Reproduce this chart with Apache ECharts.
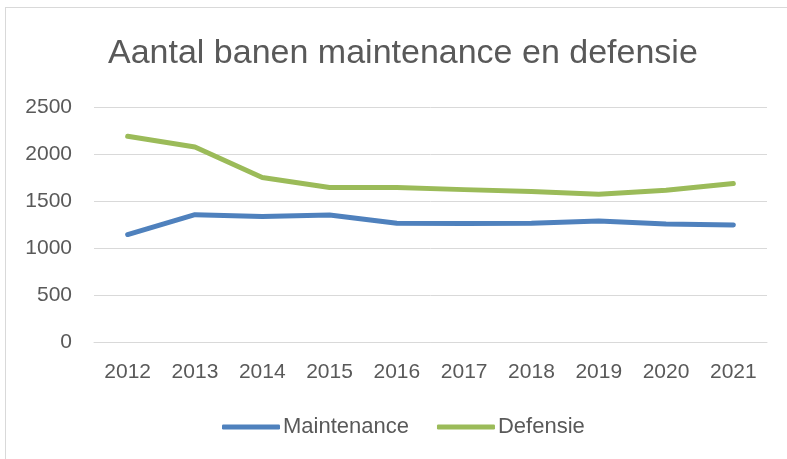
<!DOCTYPE html>
<html>
<head>
<meta charset="utf-8">
<script src="https://cdn.jsdelivr.net/npm/echarts@6/dist/echarts.min.js"></script>
<style>html,body{margin:0;padding:0;background:#fff}#c{width:787px;height:459px}</style>
</head>
<body>
<div id="c"></div>
<script>
const categories = ['2012','2013','2014','2015','2016','2017','2018','2019','2020','2021'];
const maintenance = [1143, 1355, 1334, 1352, 1263, 1260, 1263, 1287, 1255, 1245];
const defensie = [2188, 2075, 1749, 1643, 1643, 1621, 1600, 1571, 1614, 1685];
const yTicks = [0, 500, 1000, 1500, 2000, 2500];

const font = 'Liberation Sans';
const chart = echarts.init(document.getElementById('c'), null, {renderer: 'canvas'});
chart.setOption({
  backgroundColor: '#fff',
  animation: false,
  title: {
    text: 'Aantal banen maintenance en defensie',
    left: 103,
    top: 32,
    textStyle: {fontFamily: font, fontSize: 34, fontWeight: 'normal', color: '#595959'}
  },
  graphic: [
    {type: 'line', shape: {x1: 5.5, y1: 7, x2: 5.5, y2: 459}, style: {stroke: '#d9d9d9', lineWidth: 1}},
    {type: 'line', shape: {x1: 5, y1: 7.5, x2: 787, y2: 7.5}, style: {stroke: '#d9d9d9', lineWidth: 1}}
  ],
  legend: {
    top: 411,
    left: 217,
    itemWidth: 58,
    itemHeight: 5,
    itemGap: 28,
    icon: 'roundRect',
    textStyle: {fontFamily: font, fontSize: 22, color: '#595959', padding: [0,0,0,-2]},
    data: ['Maintenance', 'Defensie']
  },
  grid: {left: 94, right: 20, top: 107, bottom: 117, containLabel: false},
  xAxis: {
    type: 'category',
    data: categories,
    boundaryGap: true,
    axisLine: {show: true, lineStyle: {color: '#d9d9d9', width: 1}},
    axisTick: {show: false},
    axisLabel: {fontFamily: font, fontSize: 21, color: '#595959', margin: 20}
  },
  yAxis: {
    type: 'value',
    min: yTicks[0],
    max: yTicks[yTicks.length - 1],
    interval: 500,
    axisLine: {show: false},
    axisTick: {show: false},
    splitLine: {lineStyle: {color: '#d9d9d9', width: 1}},
    axisLabel: {fontFamily: font, fontSize: 21, color: '#595959', margin: 22, formatter: v => String(v)}
  },
  series: [
    {name: 'Maintenance', type: 'line', data: maintenance, symbol: 'none',
     lineStyle: {width: 5, color: '#4f81bd', cap: 'round', join: 'round'}, itemStyle: {color: '#4f81bd'}},
    {name: 'Defensie', type: 'line', data: defensie, symbol: 'none',
     lineStyle: {width: 5, color: '#9bbb59', cap: 'round', join: 'round'}, itemStyle: {color: '#9bbb59'}}
  ]
});
</script>
</body>
</html>
